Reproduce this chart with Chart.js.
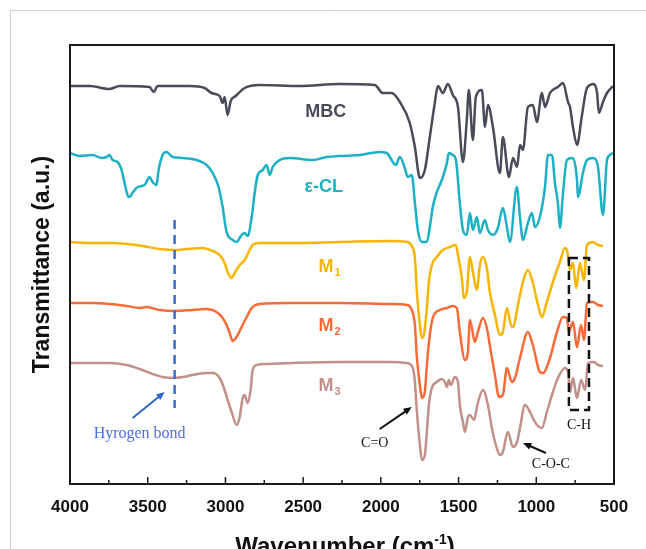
<!DOCTYPE html>
<html>
<head>
<meta charset="utf-8">
<script src="https://cdn.jsdelivr.net/npm/chart.js@4/dist/chart.umd.min.js"></script>
<style>
  body { margin: 0; background: #fff; }
  canvas { display: block; }
</style>
</head>
<body>
<canvas id="ftirChart" width="646" height="549"></canvas>
<script>
// wavenumber (cm-1) and transmittance (a.u., curves stacked with offsets)
const waveMBC = [4000,3874,3746,3681,3488,3462,3436,3230,3134,3089,3037,3018,3005,2986,2966,2934,2876,2780,2522,2264,2039,1988,1930,1878,1814,1781,1749,1717,1685,1653,1633,1601,1569,1537,1504,1472,1447,1434,1408,1389,1350,1330,1311,1279,1234,1215,1176,1150,1124,1105,1086,1054,1022,996,964,944,912,861,828,796,783,764,738,706,674,629,609,597,571,545,506];
const tMBC = [398,398,395,398,397,392,398,398,396,391,388,381,387,369,383,388,396,399,398,400,399,391,391,382,361,337,306,314,347,381,398,391,400,389,377,322,364,394,344,387,394,357,379,357,311,347,307,326,317,339,334,377,379,362,391,377,391,397,401,382,377,357,339,369,396,400,391,371,382,391,398];

const waveCL = [4000,3939,3855,3797,3765,3746,3726,3694,3668,3649,3630,3617,3598,3565,3520,3488,3469,3443,3430,3404,3379,3340,3276,3185,3121,3082,3044,3018,2999,2986,2953,2928,2896,2876,2857,2831,2812,2792,2760,2735,2715,2696,2651,2586,2438,2348,2264,2136,2007,1962,1904,1878,1846,1827,1801,1781,1762,1736,1704,1685,1666,1640,1621,1601,1575,1563,1537,1517,1492,1472,1447,1427,1408,1382,1363,1331,1311,1279,1247,1215,1189,1170,1125,1105,1086,1054,1028,1009,977,944,925,899,880,861,848,828,803,770,738,732,700,674,635,603,571,545,526,506];
const tCL = [331,328,329,326,327,329,324,322,314,301,289,287,291,297,299,307,302,299,314,329,332,327,326,324,319,311,297,277,257,249,244,242,249,251,248,267,291,309,314,319,309,317,324,326,324,327,328,329,332,331,319,327,316,307,309,281,254,242,242,257,277,292,299,307,321,331,329,324,281,254,249,271,254,267,251,264,254,249,256,276,257,242,297,267,244,261,271,257,267,297,329,329,301,281,256,291,324,326,304,287,311,324,326,317,269,324,329,331];

const waveM1 = [4000,3855,3746,3636,3533,3424,3327,3250,3147,3082,3037,3005,2986,2960,2940,2908,2876,2844,2825,2780,2567,2264,1942,1833,1801,1781,1768,1749,1736,1723,1704,1691,1672,1640,1601,1556,1517,1504,1479,1466,1447,1427,1408,1382,1363,1343,1318,1299,1266,1234,1215,1189,1163,1150,1118,1086,1054,1022,989,964,932,893,848,816,803,783,764,744,719,693,674,635,603,571];
const tM1 = [242,241,241,240,238,235,234,235,236,233,229,221,212,206,211,219,224,234,239,241,241,242,243,242,238,226,192,159,146,149,176,202,219,227,234,237,239,229,206,186,192,227,212,194,219,227,216,192,169,149,152,176,159,157,179,202,214,201,179,167,182,202,222,236,234,214,221,196,221,204,239,242,239,238];

const waveM2 = [4000,3855,3746,3636,3552,3507,3424,3327,3211,3121,3057,3018,2992,2973,2953,2928,2896,2863,2831,2780,2567,2264,1942,1833,1801,1781,1768,1749,1736,1717,1704,1685,1666,1621,1575,1537,1511,1492,1459,1440,1427,1395,1376,1343,1318,1292,1266,1240,1215,1189,1157,1137,1105,1054,1022,977,957,912,867,828,803,790,764,738,712,693,674,635,603,571];
const tM2 = [181,181,180,178,176,177,174,173,174,175,172,166,159,151,143,147,157,167,176,180,181,181,180,179,174,159,126,99,86,92,119,149,166,174,176,178,176,152,124,132,164,142,152,166,156,132,109,87,89,116,102,106,126,152,139,112,111,126,152,167,166,152,162,137,159,144,181,182,179,178];

const waveM3 = [4000,3855,3746,3636,3552,3469,3404,3340,3276,3211,3121,3082,3037,3005,2986,2960,2928,2908,2889,2876,2857,2838,2825,2799,2735,2567,2264,1942,1833,1794,1781,1768,1749,1736,1717,1704,1691,1672,1640,1608,1588,1575,1563,1550,1524,1504,1492,1472,1459,1440,1427,1401,1376,1343,1311,1286,1260,1234,1215,1183,1150,1124,1105,1073,1047,1022,996,964,932,899,861,816,796,783,764,738,712,686,667,629,603,571];
const tM3 = [121,121,121,119,115,110,107,106,107,109,111,111,106,94,84,72,59,67,86,89,81,94,114,119,120,121,122,122,121,116,102,72,39,24,29,52,79,96,102,105,102,97,104,99,107,102,79,62,52,67,69,64,81,94,79,56,39,29,32,52,37,42,56,79,74,66,59,56,72,89,106,116,112,92,106,86,104,94,121,122,119,118];

const seriesNames = ["MBC", "ε-CL", "M1", "M2", "M3"];
const xTickStep = 500;

const colors = ["#474c58", "#1cb0c5", "#f8b500", "#f76b38", "#c2908a"];
const SANS = "'Liberation Sans', Arial, sans-serif";
const SERIF = "'Liberation Serif', 'Times New Roman', serif";

// label spots in data units (wavenumber, a.u.)
const nameSpots = [[2354, 372], [2367, 297], [2330, 217], [2330, 158], [2330, 98]];

function toPoints(waves, vals) {
  return waves.map((w, i) => ({ x: w, y: vals[i] }));
}

function arrow(ctx, x1, y1, x2, y2, color) {
  const ang = Math.atan2(y2 - y1, x2 - x1);
  const head = 9;
  ctx.strokeStyle = color;
  ctx.fillStyle = color;
  ctx.lineWidth = 2;
  ctx.setLineDash([]);
  ctx.beginPath();
  ctx.moveTo(x1, y1);
  ctx.lineTo(x2 - Math.cos(ang) * head * 0.7, y2 - Math.sin(ang) * head * 0.7);
  ctx.stroke();
  ctx.beginPath();
  ctx.moveTo(x2, y2);
  ctx.lineTo(x2 - head * Math.cos(ang - 0.4), y2 - head * Math.sin(ang - 0.4));
  ctx.lineTo(x2 - head * Math.cos(ang + 0.4), y2 - head * Math.sin(ang + 0.4));
  ctx.closePath();
  ctx.fill();
}

const decor = {
  id: "decor",
  beforeDraw(chart) {
    const ctx = chart.ctx;
    ctx.save();
    ctx.fillStyle = "#fff";
    ctx.fillRect(0, 0, chart.width, chart.height);
    ctx.strokeStyle = "#d2d2d2";
    ctx.lineWidth = 1;
    ctx.beginPath();
    ctx.moveTo(10.5, chart.height);
    ctx.lineTo(10.5, 10.5);
    ctx.lineTo(chart.width, 10.5);
    ctx.stroke();
    ctx.restore();
  },
  afterDraw(chart) {
    const { ctx, chartArea: a, scales: { x, y } } = chart;
    const px = w => x.getPixelForValue(w);
    const py = v => y.getPixelForValue(v);
    ctx.save();

    // frame
    ctx.strokeStyle = "#1a1a1a";
    ctx.lineWidth = 2;
    ctx.strokeRect(a.left, a.top, a.right - a.left, a.bottom - a.top);

    // inward ticks
    ctx.lineWidth = 1.5;
    for (let w = x.min; w <= x.max; w += xTickStep / 2) {
      const len = w % xTickStep === 0 ? 7 : 4;
      ctx.beginPath();
      ctx.moveTo(px(w), a.bottom);
      ctx.lineTo(px(w), a.bottom - len);
      ctx.stroke();
    }

    // x title with superscript
    ctx.fillStyle = "#111";
    ctx.textBaseline = "alphabetic";
    ctx.textAlign = "left";
    const big = "bold 24px " + SANS, small = "bold 14px " + SANS;
    ctx.font = big;
    const t1 = "Wavenumber (cm", t3 = ")";
    const w1 = ctx.measureText(t1).width, w3 = ctx.measureText(t3).width;
    ctx.font = small;
    const w2 = ctx.measureText("-1").width;
    let sx = (a.left + a.right) / 2 + 3 - (w1 + w2 + w3) / 2;
    const base = 554;
    ctx.font = big; ctx.fillText(t1, sx, base);
    ctx.font = small; ctx.fillText("-1", sx + w1, base - 10);
    ctx.font = big; ctx.fillText(t3, sx + w1 + w2, base);

    // series names
    seriesNames.forEach((name, i) => {
      const [w, v] = nameSpots[i];
      ctx.fillStyle = colors[i];
      ctx.textBaseline = "middle";
      if (name[0] === "M" && name.length === 2) {
        ctx.font = "bold 18px " + SANS;
        const mw = ctx.measureText("M").width;
        ctx.font = "bold 11px " + SANS;
        const sw = ctx.measureText(name[1]).width;
        const left = px(w) - (mw + sw + 1) / 2;
        ctx.textAlign = "left";
        ctx.font = "bold 18px " + SANS;
        ctx.fillText("M", left, py(v));
        ctx.font = "bold 11px " + SANS;
        ctx.fillText(name[1], left + mw + 1, py(v) + 6);
      } else {
        ctx.textAlign = "center";
        ctx.font = "bold 18px " + SANS;
        ctx.fillText(name, px(w), py(v));
      }
    });

    // hydrogen bond marker
    ctx.strokeStyle = "#3a6bc9";
    ctx.lineWidth = 2.5;
    ctx.setLineDash([9, 6]);
    ctx.beginPath();
    ctx.moveTo(px(3327), py(264));
    ctx.lineTo(px(3327), py(76));
    ctx.stroke();
    ctx.setLineDash([]);
    arrow(ctx, px(3597), py(66), px(3391), py(92), "#2f68c4");
    ctx.fillStyle = "#4a6ee0";
    ctx.font = "16px " + SERIF;
    ctx.textAlign = "center";
    ctx.textBaseline = "middle";
    ctx.fillText("Hyrogen bond", px(3552), py(50));

    // C=O and C-O-C
    arrow(ctx, px(2007), py(55), px(1801), py(77), "#111");
    arrow(ctx, px(938), py(31), px(1086), py(41), "#111");
    ctx.fillStyle = "#111";
    ctx.font = "14px " + SERIF;
    ctx.fillText("C=O", px(2039), py(41));
    ctx.fillText("C-O-C", px(906), py(20));
    ctx.fillText("C-H", px(725), py(59));

    // C-H dashed box
    ctx.strokeStyle = "#111";
    ctx.lineWidth = 2.5;
    ctx.setLineDash([9, 5]);
    ctx.strokeRect(px(790), py(226), px(661) - px(790), py(74) - py(226));
    ctx.restore();
  }
};

document.addEventListener("DOMContentLoaded", () => {
  const ctx = document.getElementById("ftirChart").getContext("2d");
  const sets = [[waveMBC, tMBC], [waveCL, tCL], [waveM1, tM1], [waveM2, tM2], [waveM3, tM3]];

  new Chart(ctx, {
    type: "line",
    data: {
      datasets: sets.map((s, i) => ({
        label: seriesNames[i],
        data: toPoints(s[0], s[1]),
        borderColor: colors[i],
        borderWidth: 2.5,
        pointRadius: 0,
        fill: false,
        cubicInterpolationMode: "monotone"
      }))
    },
    options: {
      responsive: false,
      animation: false,
      layout: { padding: { top: 45, right: 32, bottom: 0, left: 0 } },
      plugins: { legend: { display: false }, tooltip: { enabled: false } },
      scales: {
        x: {
          type: "linear",
          reverse: true,
          min: 500,
          max: 4000,
          grid: { display: false, drawTicks: false },
          border: { display: false },
          ticks: {
            stepSize: xTickStep,
            maxRotation: 0,
            autoSkip: false,
            padding: 13,
            color: "#111",
            font: { family: SANS, size: 17, weight: "bold" },
            callback: v => String(v)
          },
          afterFit: scale => { scale.height = 65; }
        },
        y: {
          min: 0,
          max: 439,
          grid: { display: false, drawTicks: false },
          border: { display: false },
          ticks: { display: false },
          title: {
            display: true,
            text: "Transmittance (a.u.)",
            color: "#111",
            font: { family: SANS, size: 23, weight: "bold" },
            padding: { top: 29, bottom: 0 }
          },
          afterFit: scale => { scale.width = 70; }
        }
      }
    },
    plugins: [decor]
  });
});
</script>
</body>
</html>
